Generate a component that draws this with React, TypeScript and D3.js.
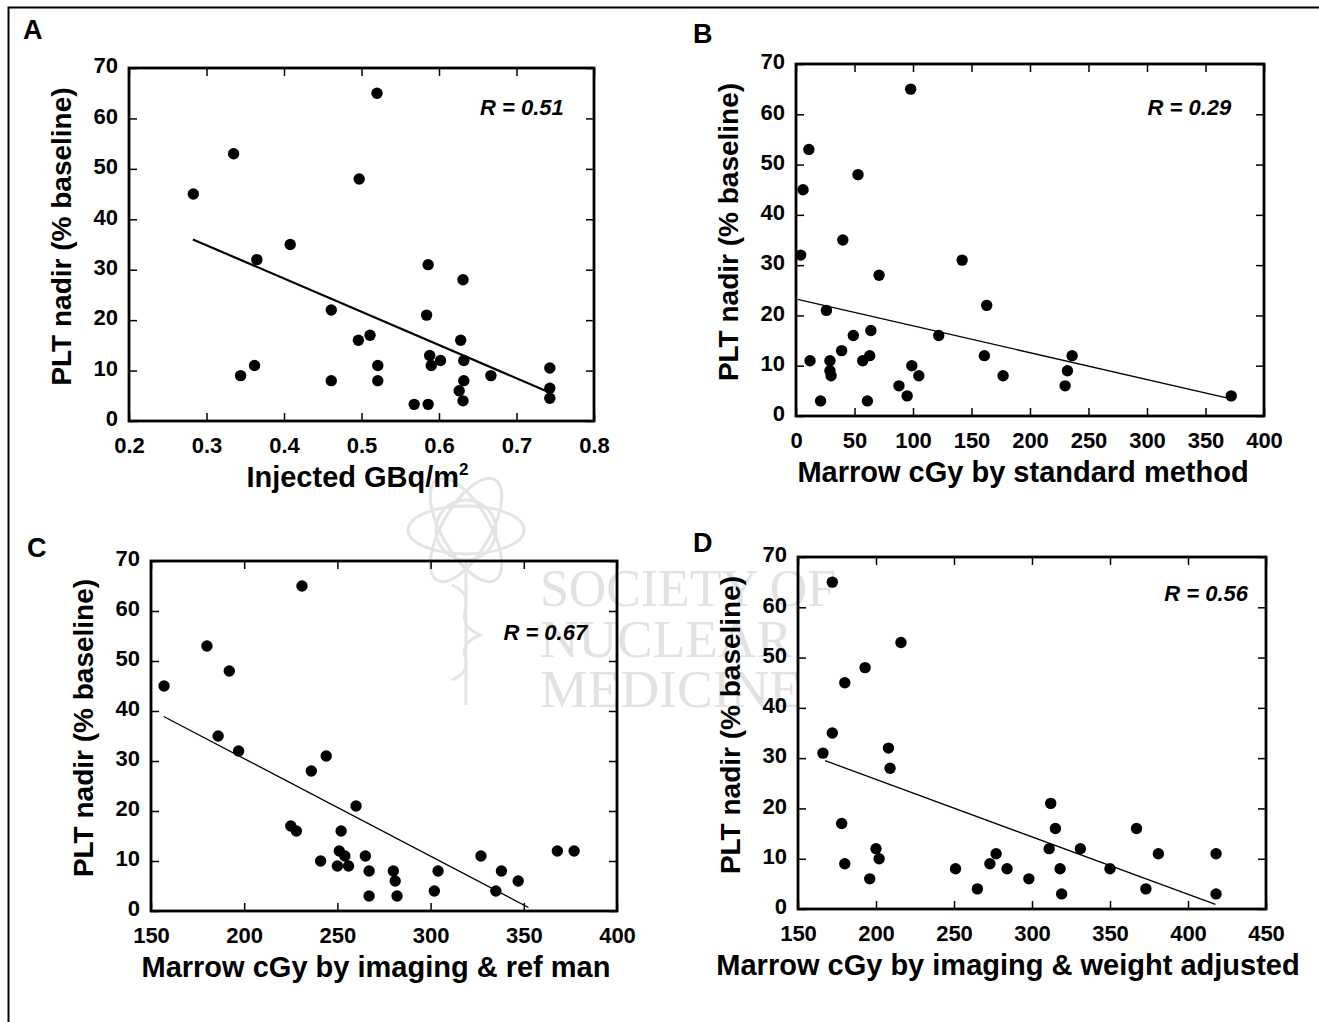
import * as d3 from 'd3';
import { useEffect, useRef } from 'react';

// A: injected activity vs platelet nadir
const aDose = [0.283, 0.335, 0.365, 0.408, 0.344, 0.362, 0.461, 0.461, 0.497, 0.496, 0.511, 0.52, 0.521, 0.521, 0.568, 0.586, 0.586, 0.584, 0.588, 0.59, 0.602, 0.631, 0.628, 0.632, 0.632, 0.626, 0.631, 0.667, 0.743, 0.743, 0.743];
const aPlt = [45, 53, 32, 35, 9, 11, 22, 8, 48, 16, 17, 65, 11, 8, 3.3, 3.3, 31, 21, 13, 11, 12, 28, 16, 12, 8, 6, 4, 9, 10.5, 6.5, 4.5];
const aFit = [[0.2825, 36.0], [0.739, 5.9]];

// B: standard method
const bDose = [98, 11, 6, 53, 40, 4, 71, 142, 163, 26, 49, 64, 122, 39, 63, 57, 12, 29, 29, 30, 99, 105, 88, 95, 21, 61, 161, 177, 236, 232, 230, 372];
const bPlt = [65, 53, 45, 48, 35, 32, 28, 31, 22, 21, 16, 17, 16, 13, 12, 11, 11, 11, 9, 8, 10, 8, 6, 4, 3, 3, 12, 8, 12, 9, 6, 4];
const bFit = [[1.4, 23.2], [370, 3.5]];

// C: imaging & ref man
const cDose = [231, 180, 192, 157, 186, 197, 244, 236, 260, 225, 228, 252, 251, 254, 241, 250, 256, 265, 267, 267, 280, 281, 282, 304, 302, 327, 338, 335, 347, 368, 377];
const cPlt = [65, 53, 48, 45, 35, 32, 31, 28, 21, 17, 16, 16, 12, 11, 10, 9, 9, 11, 8, 3, 8, 6, 3, 8, 4, 11, 8, 4, 6, 12, 12];
const cFit = [[156.8, 38.9], [352.5, 0.7]];

// D: imaging & weight adjusted
const dDose = [172, 216, 193, 180, 172, 166, 208, 209, 178, 180, 196, 200, 202, 251, 265, 273, 277, 284, 298, 312, 315, 311, 318, 319, 331, 350, 367, 381, 373, 418, 418];
const dPlt = [65, 53, 48, 45, 35, 31, 32, 28, 17, 9, 6, 12, 10, 8, 4, 9, 11, 8, 6, 21, 16, 12, 8, 3, 12, 8, 16, 11, 4, 11, 3];
const dFit = [[167.4, 29.5], [417.6, 0.9]];

const yTicks = [0, 10, 20, 30, 40, 50, 60, 70];
const aTicks = [0.2, 0.3, 0.4, 0.5, 0.6, 0.7, 0.8];
const bTicks = [0, 50, 100, 150, 200, 250, 300, 350, 400];
const cTicks = [150, 200, 250, 300, 350, 400];
const dTicks = [150, 200, 250, 300, 350, 400, 450];

const yTitle = 'PLT nadir (% baseline)';
const rValues = ['0.51', '0.29', '0.67', '0.56'];

const FONT = '"Liberation Sans", Arial, Helvetica, sans-serif';

const panels = [
  { letter: 'A', lx: 23, ly: 39, box: [129, 68, 594, 421], xs: aDose, ys: aPlt, fit: aFit, ticks: aTicks, fmt: d3.format('.1f'),
    title: 'Injected GBq/m', sup: '2', tdx: -4, r: rValues[0], rPos: [0.761, 60.7], fitW: 2.2 },
  { letter: 'B', lx: 693, ly: 43, box: [796, 64, 1264, 416], xs: bDose, ys: bPlt, fit: bFit, ticks: bTicks, fmt: d3.format('d'),
    title: 'Marrow cGy by standard method', sup: '', tdx: -7, r: rValues[1], rPos: [372, 59.9], fitW: 1.3 },
  { letter: 'C', lx: 27, ly: 557, box: [151, 561, 617, 911], xs: cDose, ys: cPlt, fit: cFit, ticks: cTicks, fmt: d3.format('d'),
    title: 'Marrow cGy by imaging & ref man', sup: '', tdx: -8, r: rValues[2], rPos: [384, 54.2], fitW: 1.3 },
  { letter: 'D', lx: 693, ly: 552, box: [798, 557, 1266, 909], xs: dDose, ys: dPlt, fit: dFit, ticks: dTicks, fmt: d3.format('d'),
    title: 'Marrow cGy by imaging & weight adjusted', sup: '', tdx: -24, r: rValues[3], rPos: [438.5, 61.2], fitW: 1.3 },
];

const App = () => {
  const ref = useRef(null);

  useEffect(() => {
    const svg = d3.select(ref.current);
    svg.selectAll('*').remove();

    // watermark (society logo + name), very light grey
    const wm = svg.append('g').attr('fill', 'none').attr('stroke', '#e4e4e4').attr('stroke-width', 3);
    [0, 60, 120].forEach(a => {
      wm.append('ellipse').attr('cx', 466).attr('cy', 530).attr('rx', 58).attr('ry', 24)
        .attr('transform', `rotate(${a} 466 530)`);
    });
    wm.append('circle').attr('cx', 466).attr('cy', 530).attr('r', 30);
    wm.append('line').attr('x1', 466).attr('y1', 560).attr('x2', 466).attr('y2', 705);
    wm.append('path').attr('d', 'M452,585 C485,600 445,620 480,635 C445,650 485,665 452,680');
    const wmt = svg.append('g').attr('fill', '#e2e2e2')
      .style('font-family', '"Liberation Serif", "DejaVu Serif", serif').style('font-size', '52px');
    [['SOCIETY OF', 606, 296], ['NUCLEAR', 657, 252], ['MEDICINE', 707, 262]].forEach(([t, y, w]) => {
      wmt.append('text').attr('x', 540).attr('y', y).attr('textLength', w)
        .attr('lengthAdjust', 'spacingAndGlyphs').text(t);
    });

    // outer figure border (top and left edges visible)
    svg.append('path').attr('d', 'M8.5,1022 L8.5,7.5 L1319,7.5')
      .attr('fill', 'none').attr('stroke', '#000').attr('stroke-width', 2);

    panels.forEach(p => {
      const [x0, y0, x1, y1] = p.box;
      const xDom = [p.ticks[0], p.ticks[p.ticks.length - 1]];
      const x = d3.scaleLinear().domain(xDom).range([x0, x1]);
      const y = d3.scaleLinear().domain([0, 70]).range([y1, y0]);
      const g = svg.append('g').style('font-family', FONT).style('font-weight', 'bold');

      g.append('text').attr('x', p.lx).attr('y', p.ly).style('font-size', '27px').text(p.letter);

      // axes with inward ticks on all four sides
      const bottom = g.append('g').attr('transform', `translate(0,${y1})`)
        .call(d3.axisBottom(x).tickValues(p.ticks).tickFormat(p.fmt).tickSizeInner(-8).tickSizeOuter(0).tickPadding(16));
      const top = g.append('g').attr('transform', `translate(0,${y0})`)
        .call(d3.axisTop(x).tickValues(p.ticks).tickFormat(() => '').tickSizeInner(-8).tickSizeOuter(0));
      const left = g.append('g').attr('transform', `translate(${x0},0)`)
        .call(d3.axisLeft(y).tickValues(yTicks).tickSizeInner(-8).tickSizeOuter(0).tickPadding(11));
      const right = g.append('g').attr('transform', `translate(${x1},0)`)
        .call(d3.axisRight(y).tickValues(yTicks).tickFormat(() => '').tickSizeInner(-8).tickSizeOuter(0));
      [bottom, top, left, right].forEach(a => {
        a.attr('font-family', null).attr('font-size', null);
        a.select('.domain').remove();
        a.selectAll('line').attr('stroke', '#000').attr('stroke-width', 1.5);
        a.selectAll('text').attr('fill', '#000').style('font-size', '22px');
      });
      left.selectAll('text').attr('dy', '0.22em');

      // frame
      g.append('rect').attr('x', x0).attr('y', y0).attr('width', x1 - x0).attr('height', y1 - y0)
        .attr('fill', 'none').attr('stroke', '#000').attr('stroke-width', 2.8);

      // regression line
      g.append('path').datum(p.fit)
        .attr('d', d3.line().x(d => x(d[0])).y(d => y(d[1])))
        .attr('fill', 'none').attr('stroke', '#000').attr('stroke-width', p.fitW);

      // points
      g.append('g').selectAll('circle').data(p.xs.map((v, i) => [v, p.ys[i]])).enter()
        .append('circle').attr('cx', d => x(d[0])).attr('cy', d => y(d[1])).attr('r', 5.7).attr('fill', '#000');

      // R label
      g.append('text').attr('x', x(p.rPos[0])).attr('y', y(p.rPos[1])).attr('text-anchor', 'end')
        .style('font-size', '22px').style('font-style', 'italic').text(`R = ${p.r}`);

      // axis titles
      const xt = g.append('text').attr('x', (x0 + x1) / 2 + p.tdx).attr('y', y1 + 66).attr('text-anchor', 'middle')
        .style('font-size', '29px').text(p.title);
      if (p.sup) xt.append('tspan').attr('dy', -12).style('font-size', '17px').text(p.sup);

      g.append('text').attr('transform', `translate(${x0 - 58},${(y0 + y1) / 2 - 8}) rotate(-90)`)
        .attr('text-anchor', 'middle').style('font-size', '28px').text(yTitle);
    });
  }, []);

  return (
    <svg ref={ref} width={1319} height={1022}
      style={{ position: 'absolute', left: 0, top: 0, display: 'block', background: '#fff' }} />
  );
};

export default App;
